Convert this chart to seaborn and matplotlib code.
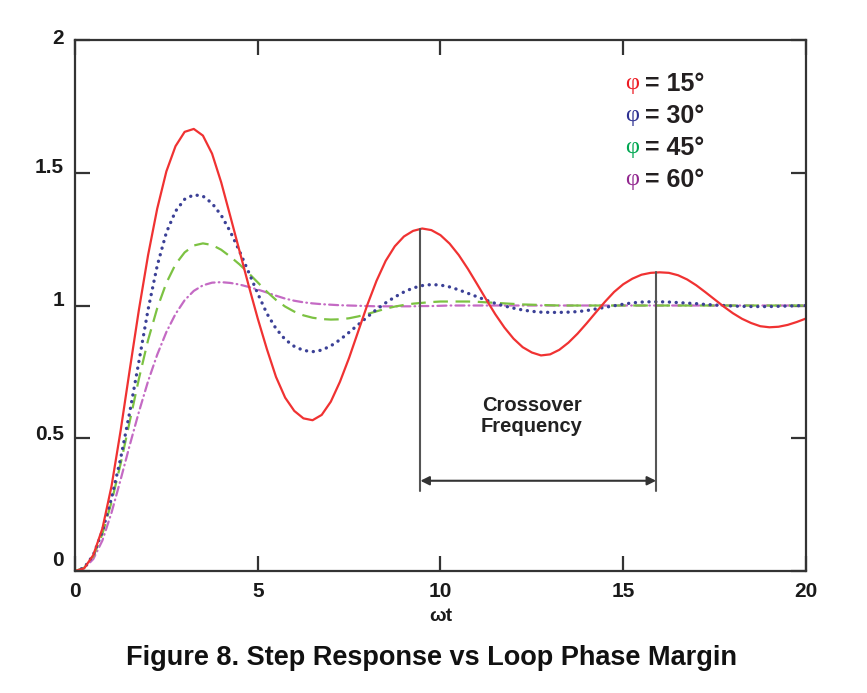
import numpy as np
import pandas as pd
import matplotlib
matplotlib.use('Agg')
import matplotlib.pyplot as plt
from matplotlib.transforms import ScaledTranslation
import seaborn as sns

# omega*t grid the curves were read on
wt = np.arange(0, 20.001, 0.25)

# step responses, one per phase margin
resp_15 = [0.000, 0.010, 0.060, 0.160, 0.320, 0.530, 0.760, 0.985, 1.190, 1.365,
           1.505, 1.600, 1.654, 1.665, 1.640, 1.572, 1.464, 1.336, 1.206, 1.076,
           0.951, 0.836, 0.731, 0.653, 0.603, 0.575, 0.568, 0.588, 0.638, 0.713,
           0.803, 0.903, 1.003, 1.093, 1.168, 1.223, 1.260, 1.281, 1.290, 1.284,
           1.265, 1.233, 1.190, 1.138, 1.081, 1.023, 0.967, 0.917, 0.875, 0.843,
           0.823, 0.812, 0.816, 0.833, 0.860, 0.894, 0.933, 0.974, 1.014, 1.051,
           1.080, 1.101, 1.116, 1.123, 1.125, 1.123, 1.114, 1.098, 1.076, 1.050,
           1.023, 0.996, 0.971, 0.950, 0.934, 0.922, 0.918, 0.920, 0.927, 0.938,
           0.951]
resp_30 = [0.000, 0.012, 0.060, 0.150, 0.275, 0.425, 0.600, 0.790, 0.985, 1.150,
           1.275, 1.355, 1.400, 1.417, 1.412, 1.385, 1.340, 1.278, 1.205, 1.126,
           1.045, 0.970, 0.913, 0.872, 0.846, 0.831, 0.826, 0.832, 0.848, 0.871,
           0.899, 0.928, 0.957, 0.985, 1.010, 1.032, 1.051, 1.066, 1.075, 1.079,
           1.077, 1.070, 1.059, 1.046, 1.033, 1.020, 1.008, 0.998, 0.990, 0.983,
           0.978, 0.975, 0.974, 0.974, 0.975, 0.977, 0.981, 0.987, 0.993, 0.999,
           1.005, 1.010, 1.013, 1.014, 1.014, 1.013, 1.011, 1.009, 1.007, 1.004,
           1.002, 1.000, 0.998, 0.997, 0.996, 0.996, 0.996, 0.997, 0.998, 0.999,
           1.000]
resp_45 = [0.000, 0.012, 0.055, 0.140, 0.260, 0.405, 0.565, 0.725, 0.870, 0.990,
           1.085, 1.155, 1.200, 1.226, 1.234, 1.228, 1.210, 1.184, 1.155, 1.122,
           1.087, 1.052, 1.021, 0.996, 0.977, 0.963, 0.954, 0.949, 0.947, 0.948,
           0.952, 0.959, 0.968, 0.978, 0.988, 0.996, 1.002, 1.007, 1.010, 1.013,
           1.015, 1.015, 1.015, 1.015, 1.014, 1.012, 1.010, 1.008, 1.006, 1.004,
           1.003, 1.002, 1.001, 1.000, 1.000, 1.000, 1.000, 1.000, 1.000, 1.000,
           1.000, 1.000, 1.000, 1.000, 1.000, 1.000, 1.000, 1.000, 1.000, 1.000,
           1.000, 1.000, 1.000, 1.000, 1.000, 1.000, 1.000, 1.000, 1.000, 1.000,
           1.000]
resp_60 = [0.000, 0.010, 0.045, 0.115, 0.220, 0.345, 0.475, 0.600, 0.715, 0.815,
           0.900, 0.968, 1.020, 1.055, 1.076, 1.086, 1.088, 1.085, 1.079, 1.070,
           1.060, 1.049, 1.037, 1.026, 1.018, 1.012, 1.008, 1.005, 1.003, 1.001,
           1.000, 0.999, 0.998, 0.997, 0.997, 0.997, 0.997, 0.997, 0.998, 0.998,
           0.999, 1.000, 1.000, 1.000, 1.000, 1.000, 1.000, 1.000, 1.000, 1.000,
           1.000, 1.000, 1.000, 1.000, 1.000, 1.000, 1.000, 1.000, 1.000, 1.000,
           1.000, 1.000, 1.000, 1.000, 1.000, 1.000, 1.000, 1.000, 1.000, 1.000,
           1.000, 1.000, 1.000, 1.000, 1.000, 1.000, 1.000, 1.000, 1.000, 1.000,
           1.000]

phase_margins = [15, 30, 45, 60]
line_colors = ['#f03232', '#3b4096', '#7cc242', '#c46ac4']
phi_colors = ['#ed1c24', '#2e3192', '#00a651', '#92278f']
x_ticks = [0, 5, 10, 15, 20]
y_ticks = [0, 0.5, 1, 1.5, 2]
y_tick_labels = ['0', '0.5', '1', '1.5', '2']
crossover_x = [9.45, 15.9]   # the two red peaks the markers hang from

df = pd.DataFrame({'wt': wt, '15': resp_15, '30': resp_30, '45': resp_45, '60': resp_60})

sns.set_style('white')
plt.rcParams['font.family'] = ['Liberation Sans', 'DejaVu Sans']
plt.rcParams['lines.scale_dashes'] = False

fig, ax = plt.subplots(figsize=(8.67, 6.93), dpi=100)
fig.subplots_adjust(left=0.0865, right=0.9296, bottom=0.176, top=0.9423)

styles = {
    '60': dict(linestyle=(0, (6.5, 3, 0.5, 3)), dash_capstyle='round'),
    '45': dict(linestyle=(0, (10.5, 5.5))),
    '30': dict(linestyle=(0, (0.1, 4.8)), dash_capstyle='round', lw=2.4),
    '15': dict(linestyle='-', solid_joinstyle='round'),
}
for pm, col in zip(['60', '45', '30', '15'], line_colors[::-1]):
    kw = dict(lw=1.6)
    kw.update(styles[pm])
    sns.lineplot(data=df, x='wt', y=pm, ax=ax, color=col, **kw)

ax.set_xlim(0, 20)
ax.set_ylim(0, 2)
ax.set_xticks(x_ticks)
ax.set_yticks(y_ticks)
ax.set_yticklabels(y_tick_labels)
ax.tick_params(direction='in', length=11, width=1.6, colors='#333333',
               top=True, right=True, bottom=True, left=True, labelsize=15, pad=8)
for lab in ax.get_xticklabels() + ax.get_yticklabels():
    lab.set_fontweight('bold')
    lab.set_color('#1a1a1a')
for sp in ax.spines.values():
    sp.set_linewidth(1.6)
    sp.set_color('#333333')

# y labels sit a bit above their ticks in the original
for lab, dy in zip(ax.get_yticklabels(), [13, 6, 7, 7, 3]):
    lab.set_transform(lab.get_transform() + ScaledTranslation(0, dy / 100, fig.dpi_scale_trans))

ax.set_xlabel('ωt', fontsize=14, fontweight='bold', color='#1a1a1a', labelpad=5)
ax.set_ylabel('')

# crossover annotation between the 2nd and 3rd red peaks
red = df.set_index('wt')['15']
tops = [red.loc[8:12].max(), red.loc[14:18].max()]
for px, top in zip(crossover_x, tops):
    ax.plot([px, px], [top, 0.30], color='#555555', lw=1.5)
ax.annotate('', xy=(crossover_x[1], 0.34), xytext=(crossover_x[0], 0.34),
            arrowprops=dict(arrowstyle='<|-|>', color='#333333', lw=1.5,
                            mutation_scale=13, shrinkA=0, shrinkB=0))
ax.text(12.5, 0.585, 'Crossover\nFrequency', ha='center', va='center',
        fontsize=14.5, fontweight='bold', color='#222222', linespacing=1.15)

# legend as coloured phi symbols
for i, (pm, pc) in enumerate(zip(phase_margins, phi_colors)):
    yy = 0.918 - i * 0.0605
    ax.text(0.753, yy, 'φ', transform=ax.transAxes, color=pc, fontsize=17.5,
            family=['Liberation Serif', 'DejaVu Serif'], va='center', ha='left')
    ax.text(0.780, yy, f'= {pm}°', transform=ax.transAxes, color='#231f20',
            fontsize=18, fontweight='bold', va='center', ha='left')

fig.text(0.498, 0.051, 'Figure 8. Step Response vs Loop Phase Margin', ha='center',
         va='center', fontsize=19.5, fontweight='bold', color='#111111')

fig.savefig('out.png', dpi=100)
